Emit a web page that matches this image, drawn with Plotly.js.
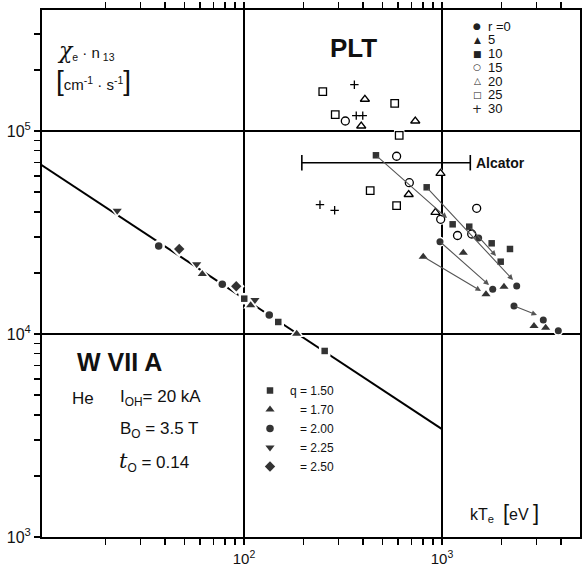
<!DOCTYPE html>
<html>
<head>
<meta charset="utf-8">
<script src="https://cdn.plot.ly/plotly-3.0.1.min.js"></script>
<style>html,body{margin:0;padding:0;background:#fff;}</style>
</head>
<body>
<div id="chart" style="width:584px;height:569px;"></div>
<script>
// ---------- W VII A data (kTe [eV], chi_e*n13) ----------
const wvLineX = [9.5, 1000];
const wvLineY = [68000, 3400];
const wvQ150X = [100.3, 149, 255.6];
const wvQ150Y = [14930, 11460, 8250];
const wvQ170X = [61.6, 108.1, 184.6];
const wvQ170Y = [19750, 13850, 10030];
const wvQ200X = [37.1, 77.7, 134.2];
const wvQ200Y = [27140, 17570, 12400];
const wvQ225X = [22.9, 57.7, 113.6];
const wvQ225Y = [40500, 22040, 14710];
const wvQ250X = [47.1, 91.4];
const wvQ250Y = [26230, 17180];
const wvNames = ['q = 1.50', '\u00a0\u00a0\u00a0= 1.70', '\u00a0\u00a0\u00a0= 2.00', '\u00a0\u00a0\u00a0= 2.25', '\u00a0\u00a0\u00a0= 2.50'];

// ---------- PLT data ----------
const pltR0X = [977, 1532, 1804, 2384, 2310, 3248, 3868];
const pltR0Y = [28490, 29710, 16610, 17240, 13740, 11720, 10380];
const pltR5X = [1281, 804, 1668, 2056, 2915, 3339];
const pltR5Y = [25150, 24030, 15690, 17100, 10950, 10740];
const pltR10X = [464, 837, 1132, 1373, 1782, 2205, 1979];
const pltR10Y = [75920, 52800, 34700, 33780, 27970, 26230, 22710];
const pltR15X = [325, 590, 684, 985, 1497, 1198, 1413];
const pltR15Y = [112000, 75070, 55640, 36730, 41610, 30560, 31090];
const pltR20X = [408, 391, 733, 983, 679, 927];
const pltR20Y = [143300, 105800, 112000, 61880, 48670, 39770];
const pltR25X = [250, 577, 289, 608, 434, 590];
const pltR25Y = [156200, 136900, 120300, 95240, 50800, 42860];
const pltR30X = [361, 369, 398, 242, 287];
const pltR30Y = [169100, 119000, 119000, 43350, 40680];
const pltLabels = ['r =0', '5', '10', '15', '20', '25', '30'];
const pltGlyphs = ['\u25CF', '\u25B2', '\u25A0', '\u25CB', '\u25B3', '\u25A1', '+'];

// arrows (tail -> head)
const arrowFromX = [464, 837, 1373, 977, 804, 2310];
const arrowFromY = [75920, 52800, 33780, 28490, 24030, 13740];
const arrowToX = [1060, 2284, 1874, 1728, 1574, 3018];
const arrowToY = [37270, 18450, 24220, 17430, 16280, 12400];

// Alcator range
const alcatorX = [196, 1390];
const alcatorY = [69800, 69800];

// axis ticks
const xTickVals = [100, 1000];
const xTickText = ['10<sup>2</sup>', '10<sup>3</sup>'];
const xMinorVals = [20,30,40,50,60,70,80,90,200,300,400,500,600,700,800,900,2000,3000,4000];
const yTickVals = [1000, 10000, 100000];
const yTickText = ['10<sup>3</sup>', '10<sup>4</sup>', '10<sup>5</sup>'];
const yMinorVals = [2000,3000,4000,5000,6000,7000,8000,9000,20000,30000,40000,50000,60000,70000,80000,90000,200000,300000];

const FILL = '#333';
const traces = [];

// W VII A fit line
traces.push({x: wvLineX, y: wvLineY, mode: 'lines', line: {color: '#000', width: 2}, showlegend: false, hoverinfo: 'skip'});

function halo(x, y, sym, size) {
  traces.push({x: x, y: y, mode: 'markers', marker: {symbol: sym, size: size + 5, color: '#fff'}, showlegend: false, hoverinfo: 'skip'});
}

const wvSeries = [
  [wvQ150X, wvQ150Y, 'square', 6.5],
  [wvQ170X, wvQ170Y, 'triangle-up', 8],
  [wvQ200X, wvQ200Y, 'circle', 7.5],
  [wvQ225X, wvQ225Y, 'triangle-down', 8],
  [wvQ250X, wvQ250Y, 'diamond', 8]
];
wvSeries.forEach(s => halo(s[0], s[1], s[2], s[3]));

const pltSeries = [
  [pltR0X, pltR0Y, 'circle', 7, 'circle'],
  [pltR5X, pltR5Y, 'triangle-up', 8, 'triangle-up'],
  [pltR10X, pltR10Y, 'square', 6.5, 'square'],
  [pltR15X, pltR15Y, 'circle-open', 8, 'circle'],
  [pltR20X, pltR20Y, 'triangle-up-open', 8, 'triangle-up'],
  [pltR25X, pltR25Y, 'square-open', 7.5, 'square'],
  [pltR30X, pltR30Y, 'cross-thin-open', 6, 'circle']
];
pltSeries.forEach(s => halo(s[0], s[1], s[4], s[3] - 2));

// Alcator bar
traces.push({x: alcatorX, y: alcatorY, mode: 'lines+markers', line: {color: '#000', width: 1.6},
  marker: {symbol: 'line-ns-open', size: 11, color: '#000', line: {width: 1.6, color: '#000'}}, showlegend: false, hoverinfo: 'skip'});

wvSeries.forEach((s, i) => {
  traces.push({x: s[0], y: s[1], mode: 'markers', name: wvNames[i],
    marker: {symbol: s[2], size: s[3], color: FILL}, showlegend: true});
});
pltSeries.forEach((s, i) => {
  const open = s[2].indexOf('open') >= 0;
  traces.push({x: s[0], y: s[1], mode: 'markers', name: 'r ' + pltLabels[i],
    marker: {symbol: s[2], size: s[3], color: open ? '#000' : FILL,
      line: {width: open ? 1.3 : 0, color: '#000'}}, showlegend: false});
});

// helpers pixel -> paper
const PX = px => (px - 42) / 538;
const PY = py => (537 - py) / 527;

const SANS = 'Liberation Sans, Arial, sans-serif';
const annotations = [];
function txt(text, px, py, size, opts) {
  annotations.push(Object.assign({xref: 'paper', yref: 'paper', x: PX(px), y: PY(py), text: text,
    showarrow: false, xanchor: 'left', yanchor: 'middle', borderpad: 0, font: {family: SANS, size: size, color: '#111'}}, opts || {}));
}

txt("<span style='font-family:DejaVu Serif;font-size:22px'><i>χ</i></span><sub>e</sub> · n<sub> 13</sub>", 56, 50, 15);
txt("<span style='font-size:28px'>[</span>cm<sup>-1</sup> · s<sup>-1</sup><span style='font-size:28px'>]</span>", 55, 80, 15);
txt('<b>PLT</b>', 353, 48, 26, {xanchor: 'center'});
txt('<b>W VII A</b>', 76, 362, 25);
txt('He', 71, 398, 17);
txt('I<sub>OH</sub>= 20 kA', 119, 398, 17);
txt('B<sub>O</sub> = 3.5 T', 119, 430, 17);
txt("<span style='font-family:DejaVu Serif;font-size:21px'><i>t</i></span><sub>O</sub> = 0.14", 118, 462, 17);
txt("kT<sub>e</sub>  <span style='font-size:22px'>[</span>eV <span style='font-size:22px'>]</span>", 469, 512, 16);
txt('<b>Alcator</b>', 475, 163, 14);

// PLT legend
pltLabels.forEach((lab, i) => {
  const py = 26 + i * 13.8;
  const gs = i === 6 ? 12 : 9;
  txt(pltGlyphs[i], 477, py, gs, {xanchor: 'center', font: {family: 'DejaVu Sans', size: gs, color: '#222'}});
  txt(lab, 487, py, 13);
});

// arrows
arrowFromX.forEach((fx, i) => {
  annotations.push({xref: 'x', yref: 'y', axref: 'x', ayref: 'y',
    x: Math.log10(arrowToX[i]), y: Math.log10(arrowToY[i]),
    ax: Math.log10(fx), ay: Math.log10(arrowFromY[i]),
    text: '', showarrow: true, arrowhead: 2, arrowsize: 1, arrowwidth: 1.1, arrowcolor: '#555', standoff: 0, startstandoff: 0});
});

const layout = {
  width: 584, height: 569,
  margin: {l: 42, r: 4, t: 10, b: 32, pad: 0},
  paper_bgcolor: '#fff', plot_bgcolor: '#fff',
  font: {family: SANS, color: '#111'},
  showlegend: true,
  legend: {x: PX(250), y: PY(376), xanchor: 'left', yanchor: 'top', bgcolor: 'rgba(0,0,0,0)',
    font: {family: SANS, size: 12, color: '#111'}, borderwidth: 0, itemclick: false},
  xaxis: {type: 'log', range: [0.98, 3.697], tickmode: 'array', tickvals: xTickVals, ticktext: xTickText,
    ticks: 'outside', ticklen: 6, tickwidth: 1.5, tickcolor: '#000', showgrid: true, gridcolor: '#000', gridwidth: 1.5,
    showline: true, linecolor: '#000', linewidth: 2, mirror: 'ticks', zeroline: false, ticklabelstandoff: 1,
    tickfont: {family: SANS, size: 15, color: '#111'},
    minor: {tickmode: 'array', tickvals: xMinorVals, ticks: 'outside', ticklen: 6, tickwidth: 1.5, tickcolor: '#000', showgrid: false}},
  yaxis: {type: 'log', range: [3, 5.596], tickmode: 'array', tickvals: yTickVals, ticktext: yTickText,
    ticks: 'outside', ticklen: 6, tickwidth: 1.5, tickcolor: '#000', showgrid: true, gridcolor: '#000', gridwidth: 1.5,
    showline: true, linecolor: '#000', linewidth: 2, mirror: true, zeroline: false,
    tickfont: {family: SANS, size: 16, color: '#111'},
    minor: {tickmode: 'array', tickvals: yMinorVals, ticks: 'outside', ticklen: 6, tickwidth: 1.5, tickcolor: '#000', showgrid: false}},
  annotations: annotations
};

Plotly.newPlot('chart', traces, layout, {staticPlot: true});
</script>
</body>
</html>
